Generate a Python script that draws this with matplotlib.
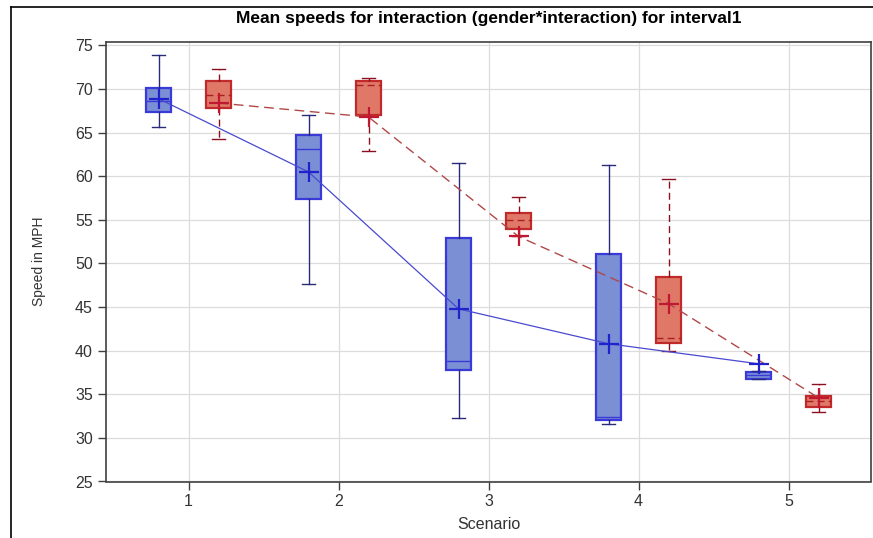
import matplotlib
matplotlib.use("Agg")
import matplotlib.pyplot as plt
from matplotlib.lines import Line2D

plt.rcParams['font.family'] = ['Liberation Sans', 'DejaVu Sans']

scenarios = [1, 2, 3, 4, 5]

# box statistics: whisker low, Q1, median, Q3, whisker high, mean
blue_low = [65.7, 47.6, 32.3, 31.6, 36.7]
blue_q1 = [67.4, 57.4, 37.8, 32.0, 36.8]
blue_med = [68.6, 63.1, 38.8, 32.4, 37.2]
blue_q3 = [70.1, 64.7, 52.9, 51.1, 37.6]
blue_high = [73.9, 67.0, 61.5, 61.3, 37.7]
blue_mean = [68.9, 60.5, 44.8, 40.8, 38.5]

red_low = [64.3, 62.9, 53.1, 40.0, 33.0]
red_q1 = [67.8, 67.0, 54.0, 40.9, 33.5]
red_med = [69.3, 70.5, 55.0, 41.5, 34.2]
red_q3 = [70.9, 70.9, 55.8, 48.4, 34.8]
red_high = [72.3, 71.3, 57.6, 59.7, 36.2]
red_mean = [68.4, 66.8, 53.1, 45.4, 34.6]


def stats(low, q1, med, q3, high, mean):
    out = []
    for i in range(len(low)):
        out.append({'whislo': low[i], 'q1': q1[i], 'med': med[i],
                    'q3': q3[i], 'whishi': high[i], 'mean': mean[i]})
    return out


fig = plt.figure(figsize=(8.73, 5.38), dpi=100)
ax = fig.add_axes([106 / 873, 1 - 481.5 / 538, 765 / 873, 439.5 / 538])

blue_pos = [s - 0.2 for s in scenarios]
red_pos = [s + 0.2 for s in scenarios]

ax.bxp(stats(blue_low, blue_q1, blue_med, blue_q3, blue_high, blue_mean),
       positions=blue_pos, widths=0.17, patch_artist=True, showfliers=False,
       boxprops=dict(facecolor='#7a8fd4', edgecolor='#3a3ad8', linewidth=1.6),
       medianprops=dict(color='#3a3ad8', linewidth=1.0),
       whiskerprops=dict(color='#2a2a7a', linewidth=1.0),
       capprops=dict(color='#2a2a7a', linewidth=1.0), zorder=3)
ax.bxp(stats(red_low, red_q1, red_med, red_q3, red_high, red_mean),
       positions=red_pos, widths=0.17, patch_artist=True, showfliers=False,
       boxprops=dict(facecolor='#e07868', edgecolor='#c02a2a', linewidth=1.6),
       medianprops=dict(color='#a82020', linewidth=1.0, linestyle=(0, (5, 3))),
       whiskerprops=dict(color='#8a1020', linewidth=1.0, linestyle=(0, (5, 3))),
       capprops=dict(color='#8a1020', linewidth=1.0), zorder=3)

ax.plot(blue_pos, blue_mean, color='#4a4ad0', linewidth=0.9, zorder=4)
ax.plot(red_pos, red_mean, color='#b04848', linewidth=1.0,
        linestyle=(0, (7, 4)), zorder=4)
ax.plot(blue_pos, blue_mean, linestyle='none', marker='+', markersize=14,
        markeredgewidth=1.6, color='#2222cc', zorder=5)
ax.plot(red_pos, red_mean, linestyle='none', marker='+', markersize=14,
        markeredgewidth=1.6, color='#c01830', zorder=5)

ax.set_xlim(0.45, 5.55)
ax.set_ylim(25, 75.4)
ax.set_xticks(scenarios)
ax.set_xticklabels([str(s) for s in scenarios])
ax.set_yticks(range(25, 76, 5))
ax.grid(True, color='#dcdcdc', linewidth=0.9, zorder=0)
ax.set_axisbelow(True)
for sp in ax.spines.values():
    sp.set_color('#404040')
    sp.set_linewidth(1.2)
ax.tick_params(axis='both', labelsize=11.5, colors='#404040', labelcolor='#333333',
               length=6, width=1.0)
ax.tick_params(axis='x', pad=3)

ax.set_title('Mean speeds for interaction (gender*interaction) for interval1',
             fontsize=12.5, fontweight='bold', pad=14)
ax.set_xlabel('Scenario', fontsize=11.5, color='#333333', labelpad=6)
ax.set_ylabel('Speed in MPH', fontsize=10, color='#333333', labelpad=21)

# outer frame (top and left edges)
fig.add_artist(Line2D([11 / 873, 1], [1 - 7 / 538, 1 - 7 / 538],
                      color='black', linewidth=1.2, transform=fig.transFigure))
fig.add_artist(Line2D([11 / 873, 11 / 873], [0, 1 - 7 / 538],
                      color='black', linewidth=1.2, transform=fig.transFigure))

fig.savefig('out.png', dpi=100)
